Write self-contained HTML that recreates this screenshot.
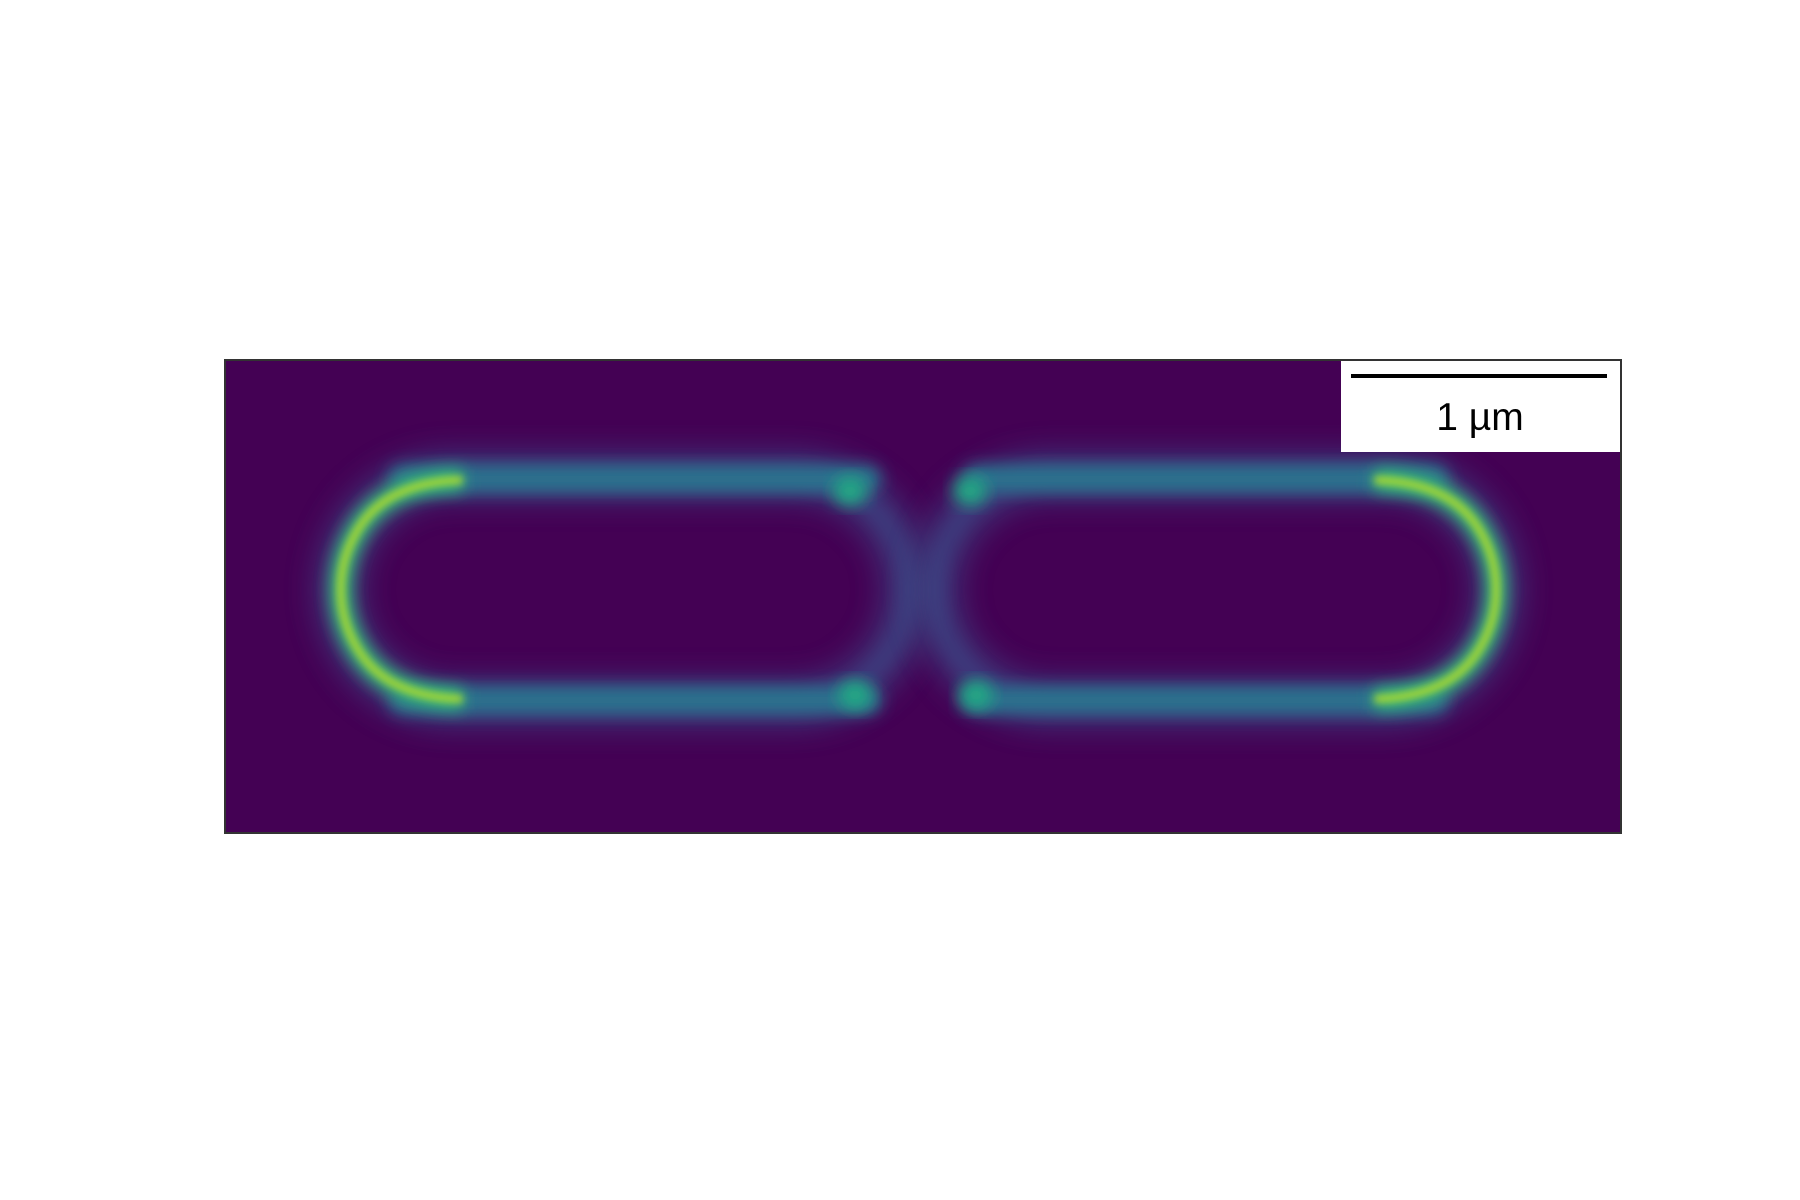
<!DOCTYPE html>
<html><head><meta charset="utf-8"><style>
html,body{margin:0;padding:0;background:#fff;width:1800px;height:1200px;overflow:hidden}
</style></head><body>
<svg id="chart" width="1800" height="1200" xmlns="http://www.w3.org/2000/svg">
<defs>
<filter id="b8" x="-30%" y="-30%" width="160%" height="160%"><feGaussianBlur stdDeviation="8"/></filter>
<filter id="b4" x="-30%" y="-30%" width="160%" height="160%"><feGaussianBlur stdDeviation="4"/></filter>
<filter id="b14" x="-30%" y="-30%" width="160%" height="160%"><feGaussianBlur stdDeviation="14"/></filter>
<clipPath id="clip"><rect x="225" y="360" width="1396" height="473"/></clipPath>
</defs>
<rect x="225" y="360" width="1396" height="473" fill="#440154"/>
<g id="cells" clip-path="url(#clip)"></g>
<rect x="225" y="360" width="1396" height="473" fill="none" stroke="#333" stroke-width="2"/>
<g>
<rect x="1341" y="361" width="279" height="91" fill="#fff"/>
<line x1="1351" y1="376" x2="1607" y2="376" stroke="#000" stroke-width="4"/>
<text x="1480" y="430" text-anchor="middle" font-family="Liberation Sans, sans-serif" font-size="39" fill="#000">1 µm</text>
</g>
</svg>
<script>
// cell outlines: [left, right, top, bottom] in image units (px)
const cellLeft = [339, 936];
const cellRight = [907, 1498];
const cellTop = [476, 476];
const cellBottom = [703, 703];
// which end is the old pole: 0 = left, 1 = right
const poleSide = [0, 1];
// bright foci near the septum
const spotX = [850, 855, 970, 976];
const spotY = [491, 695, 491, 695];
const NS='http://www.w3.org/2000/svg';
const g=document.getElementById('cells');
function mk(tag,attrs){const e=document.createElementNS(NS,tag);for(const k in attrs)e.setAttribute(k,attrs[k]);g.appendChild(e);return e;}
for(let i=0;i<cellLeft.length;i++){
  const l=cellLeft[i],r=cellRight[i],t=cellTop[i],b=cellBottom[i],h=(b-t)/2,cy=(t+b)/2;
  const halo=mk('rect',{x:l,y:t,width:r-l,height:b-t,rx:h,ry:h,fill:'none',stroke:'#3b528b',"stroke-width":50,filter:'url(#b14)',opacity:0.55});
  
  
  const sep=mk('rect',{x:l,y:t,width:r-l,height:b-t,rx:h,ry:h,fill:'none',stroke:'#3e4a89',"stroke-width":18,filter:'url(#b8)',opacity:0.5});
  
  
  const cx=poleSide[i]===0?l+h:r-h;
  const x0=poleSide[i]===0?cx-50:l+h*0.35, x1=poleSide[i]===0?r-h*0.35:cx+50;
  const side=mk('path',{d:`M ${x0} ${t+3} L ${x1} ${t+3} M ${x0} ${b-3} L ${x1} ${b-3}`,fill:'none',stroke:'#2c728e',"stroke-width":28,"stroke-linecap":"round",filter:'url(#b8)'});
  
  
  const sgn=poleSide[i]===0?-1:1;
  const sw=poleSide[i]===0?0:1;
  const d=`M ${cx-sgn*10} ${t+4} Q ${cx+sgn*h*0.6} ${t+6} ${cx+sgn*h*0.85} ${cy-h*0.5} A ${h} ${h} 0 0 ${sw} ${cx+sgn*h*0.85} ${cy+h*0.5} Q ${cx+sgn*h*0.6} ${b-6} ${cx-sgn*10} ${b-4}`;
  const p1=mk('path',{d:d,fill:'none',stroke:'#35b779',"stroke-width":22,filter:'url(#b8)'});
  
  
  const p2=mk('path',{d:d,fill:'none',stroke:'#b5de2b',"stroke-width":8,filter:'url(#b4)',opacity:0.9});
  
  
}
for(let j=0;j<spotX.length;j++){
  const s=mk('ellipse',{cx:spotX[j],cy:spotY[j],rx:17,ry:15,fill:'#22a884',filter:'url(#b8)'});
  
  
}
</script>
</body></html>
